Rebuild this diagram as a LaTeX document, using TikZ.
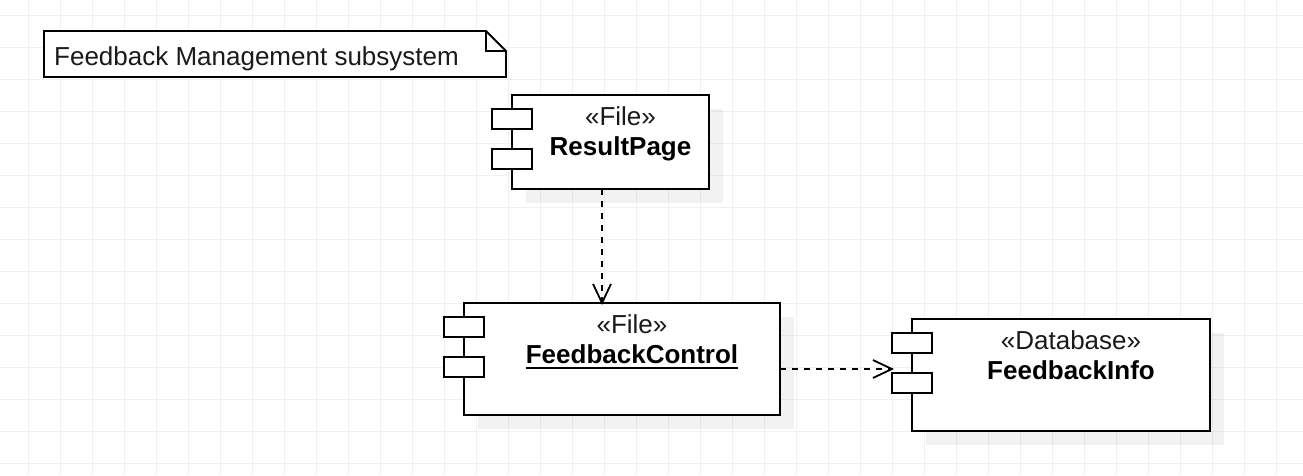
\documentclass[tikz,border=0pt]{standalone}
\usepackage{fontspec}
\setmainfont{Liberation Sans}
\usetikzlibrary{arrows.meta}
\definecolor{gridc}{HTML}{F0F0F0}
\definecolor{inkc}{HTML}{1A1A1A}
\tikzset{
  umlline/.style={line width=1.8pt,draw=black},
  umlbox/.style={umlline,fill=white,rectangle,inner sep=0pt,outer sep=0pt},
  umlbody/.style={umlbox,minimum width=#1},
  umlport/.style={umlbox,minimum width=40pt,minimum height=20pt},
  umlshadow/.style={fill=black,fill opacity=0.05,draw=none},
  umltxt/.style={anchor=base,inner sep=0pt,outer sep=0pt,text=inkc,font=\fontsize{26}{30}\selectfont},
  umlname/.style={umltxt,text=black,font=\fontsize{26}{30}\selectfont\bfseries},
  umldep/.style={umlline,line width=2pt,dash pattern=on 6pt off 6pt,shorten >=-2pt,-{Straight Barb[length=19pt,width=18pt,line width=1.8pt]}},
}
\begin{document}
\begin{tikzpicture}[x=1pt,y=-1pt]
\useasboundingbox (0,0) rectangle (1303,475);
\fill[white] (0,0) rectangle (1303,475);
\foreach \k in {0,...,39} \draw[gridc,line width=1pt] ({28.5+32*\k},0) -- ({28.5+32*\k},475);
\foreach \k in {0,...,14} \draw[gridc,line width=1pt] (0,{15.5+32*\k}) -- (1303,{15.5+32*\k});

% shadows
\fill[umlshadow] (526,109) rectangle (723,203);
\fill[umlshadow] (478,317) rectangle (794,429);
\fill[umlshadow] (926,333) rectangle (1224,445);

% note
\node[inner sep=0pt,outer sep=0pt,minimum width=462pt,minimum height=46pt] (note) at (275,54) {};
\draw[umlline,fill=white,line join=miter] (note.north west) -- ([xshift=-20pt]note.north east) -- ([yshift=-20pt]note.north east) -- (note.south east) -- (note.south west) -- cycle;
\draw[umlline,line join=miter] ([xshift=-20pt]note.north east) -- ([shift={(-20pt,-20pt)}]note.north east) -- ([yshift=-20pt]note.north east);
\node[umltxt] (notet) at (256.5,65) {Feedback Management subsystem};

% ResultPage
\node[umlbody=197pt,minimum height=94pt] (rp) at (610.5,142) {};
\node[umlport] (rpa) at (512,119) {};
\node[umlport] (rpb) at (512,159) {};
\node[umltxt] (rps) at (620.5,125) {«File»};
\node[umlname] (rpn) at (620.5,155) {ResultPage};

% FeedbackControl
\node[umlbody=316pt,minimum height=112pt] (fc) at (622,359) {};
\node[umlport] (fca) at (464,327) {};
\node[umlport] (fcb) at (464,367) {};
\node[umltxt] (fcs) at (632,333) {«File»};
\node[umlname] (fcn) at (632,363) {FeedbackControl};
\draw[line width=2pt,draw=black] ([yshift=-5pt]fcn.base west) -- ([yshift=-5pt]fcn.base east);

% FeedbackInfo
\node[umlbody=298pt,minimum height=112pt] (fi) at (1061,375) {};
\node[umlport] (fia) at (912,343) {};
\node[umlport] (fib) at (912,383) {};
\node[umltxt] (fis) at (1071,349) {«Database»};
\node[umlname] (fin) at (1071,379) {FeedbackInfo};

% dependencies
\draw[umldep] ([xshift=-8.5pt]rp.south) -- ([xshift=-20pt]fc.north);
\draw[umldep] ([yshift=-10pt]fc.east) -- ([shift={(-20pt,6pt)}]fi.west);
\end{tikzpicture}
\end{document}
